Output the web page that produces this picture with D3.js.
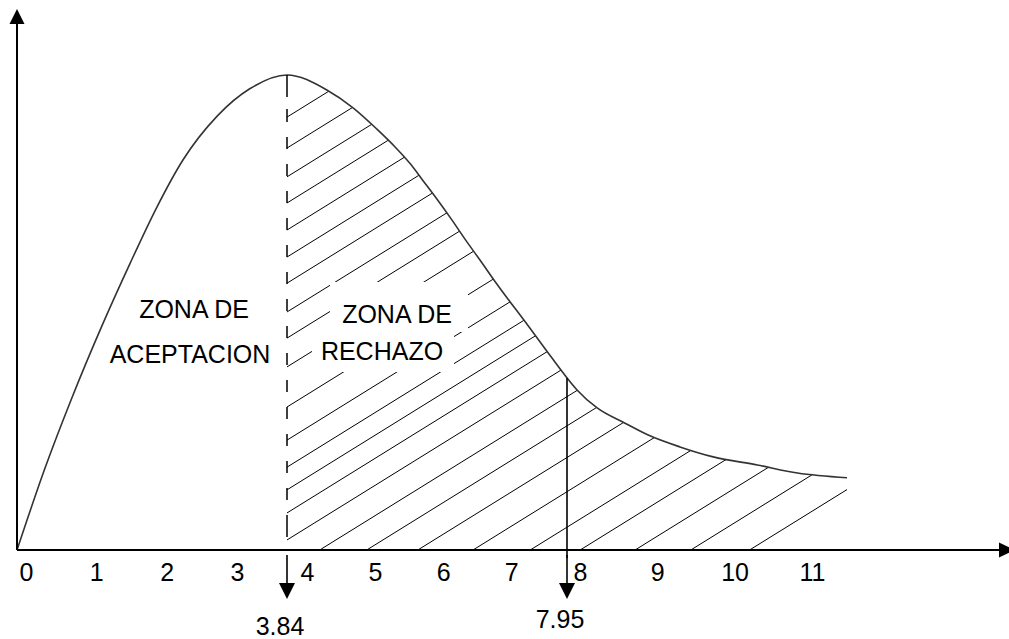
<!DOCTYPE html>
<html>
<head>
<meta charset="utf-8">
<script src="https://cdn.jsdelivr.net/npm/d3@7"></script>
<style>
  body { margin: 0; background: #fff; }
  svg { display: block; }
  text { font-family: "Liberation Sans", Arial, sans-serif; fill: #000; }
</style>
</head>
<body>
<div id="chart"></div>
<script>
// curve (x in axis units, y relative to the peak)
var curveX = [0, 0.40, 0.78, 1.22, 1.61, 1.99, 2.36, 2.85, 3.31, 3.84,
              4.43, 4.81, 5.16, 5.43, 5.65, 5.84, 6.04, 6.26, 6.45, 6.67, 6.92, 7.38, 7.73, 7.92,
              8.08, 8.34, 8.70, 9.00, 9.41, 9.84, 10.41, 10.93, 11.57];
var curveY = [0, 0.173, 0.320, 0.476, 0.604, 0.722, 0.821, 0.914, 0.971, 1.0,
              0.968, 0.931, 0.886, 0.848, 0.813, 0.777, 0.739, 0.695, 0.655, 0.611, 0.560, 0.472, 0.404, 0.368,
              0.337, 0.299, 0.267, 0.242, 0.217, 0.196, 0.179, 0.162, 0.152];

var tickValues = [0, 1, 2, 3, 4, 5, 6, 7, 8, 9, 10, 11];
var tickLabels = ["0", "1", "2", "3", "4", "5", "6", "7", "8", "9", "10", "11"];

var cutValues = [3.84, 7.95];
var cutLabels = ["3.84", "7.95"];

// where each hatch line crosses the x axis (axis units)
var hatchStarts = [-6.09, -5.38, -4.72, -4.12, -3.50, -2.88, -2.28, -1.62, -1.02, -0.36, 0.56, 1.32, 1.94, 2.46, 2.99, 3.61,
                   4.32, 5.01, 5.76, 6.57, 7.41, 8.12, 8.83, 9.55, 10.31];

var leftZone = ["ZONA DE", "ACEPTACION"];
var rightZone = ["ZONA DE", "RECHAZO"];

var width = 1009, height = 639;

var svg = d3.select("#chart").append("svg")
    .attr("width", width)
    .attr("height", height);

// the drawing is not evenly spaced, so the x scale bends at the two cut values
var x = d3.scaleLinear().domain([0, 3.84, 7.95, 14]).range([17, 287, 567, 1035]);
var y = d3.scaleLinear().domain([0, 1]).range([550, 75]);

var pts = curveX.map(function (d, i) { return { x: d, y: curveY[i] }; });

// linear lookup on the curve, good enough for the 7.95 line
var curveAt = function (v) {
    for (var i = 1; i < pts.length; i++) {
        if (v <= pts[i].x) {
            var t = (v - pts[i - 1].x) / (pts[i].x - pts[i - 1].x);
            return pts[i - 1].y + t * (pts[i].y - pts[i - 1].y);
        }
    }
    return pts[pts.length - 1].y;
};

// clip = area to the right of 3.84 under the curve
var rightPts = pts.filter(function (d) { return d.x >= cutValues[0]; });
var area = d3.area()
    .x(function (d) { return x(d.x); })
    .y0(y(0))
    .y1(function (d) { return y(d.y); })
    .curve(d3.curveMonotoneX);

svg.append("clipPath").attr("id", "rejectClip")
    .append("path")
    .attr("d", area(rightPts));

var slope = 0.62;
svg.append("g")
    .attr("clip-path", "url(#rejectClip)")
    .selectAll("line")
    .data(hatchStarts)
    .enter()
    .append("line")
    .attr("x1", function (d) { return x(d); })
    .attr("y1", y(0))
    .attr("x2", function (d) { return x(d) + 1200; })
    .attr("y2", y(0) - slope * 1200)
    .attr("stroke", "#000")
    .attr("stroke-width", 1);

// curve
var line = d3.line()
    .x(function (d) { return x(d.x); })
    .y(function (d) { return y(d.y); })
    .curve(d3.curveMonotoneX);

svg.append("path")
    .attr("d", line(pts))
    .attr("fill", "none")
    .attr("stroke", "#333")
    .attr("stroke-width", 1.6);

// dashed line at 3.84 (from the top down), solid at 7.95
svg.append("line")
    .attr("x1", x(cutValues[0])).attr("x2", x(cutValues[0]))
    .attr("y1", y(curveAt(cutValues[0]))).attr("y2", y(0))
    .attr("stroke", "#000")
    .attr("stroke-width", 1.5)
    .attr("stroke-dasharray", "22,12,13,15,12,15,12,15,12,15,12,15,12,15,12,15,12,15,12,15,12,15,12,15,12,15,12,15,12,15,12,15");

svg.append("line")
    .attr("x1", x(cutValues[1])).attr("x2", x(cutValues[1]))
    .attr("y1", y(curveAt(cutValues[1]))).attr("y2", y(0) + 8)
    .attr("stroke", "#000")
    .attr("stroke-width", 1.6);

// axes with arrow heads
svg.append("line")
    .attr("x1", x(0)).attr("x2", 1000)
    .attr("y1", y(0)).attr("y2", y(0))
    .attr("stroke", "#000").attr("stroke-width", 2);
svg.append("path")
    .attr("d", "M999," + (y(0) - 7.5) + "L1015," + y(0) + "L999," + (y(0) + 7.5) + "Z")
    .attr("fill", "#000");

svg.append("line")
    .attr("x1", x(0)).attr("x2", x(0))
    .attr("y1", y(0)).attr("y2", 22)
    .attr("stroke", "#000").attr("stroke-width", 2);
svg.append("path")
    .attr("d", "M" + (x(0) - 7.5) + ",24L" + x(0) + ",9L" + (x(0) + 7.5) + ",24Z")
    .attr("fill", "#000");

// tick labels
var xAxis = svg.append("g")
    .attr("transform", "translate(9," + y(0) + ")")
    .call(d3.axisBottom(x)
        .tickValues(tickValues)
        .tickFormat(function (d, i) { return tickLabels[i]; })
        .tickSize(0)
        .tickPadding(13));
xAxis.select(".domain").remove();
xAxis.selectAll("text")
    .attr("font-size", "25px")
    .attr("font-family", "Liberation Sans, Arial, sans-serif")
    .attr("fill", "#000");

// down arrows with the critical values
var cutLabelY = [635, 628];
var cuts = svg.selectAll("g.cut")
    .data(cutValues)
    .enter()
    .append("g")
    .attr("class", "cut")
    .attr("transform", function (d) { return "translate(" + x(d) + ",0)"; });

cuts.append("line")
    .attr("x1", 0).attr("x2", 0)
    .attr("y1", 555).attr("y2", 586)
    .attr("stroke", "#000").attr("stroke-width", 1.6);
cuts.append("path")
    .attr("d", "M-8,583L0,599L8,583Z")
    .attr("fill", "#000");
cuts.append("text")
    .attr("x", -7)
    .attr("y", function (d, i) { return cutLabelY[i]; })
    .attr("text-anchor", "middle")
    .attr("font-size", "25px")
    .text(function (d, i) { return cutLabels[i]; });

// zone labels; the rejection one sits on a white box over the hatching
svg.append("rect").attr("x", 330).attr("y", 282).attr("width", 138).attr("height", 50).attr("fill", "#fff");
svg.append("rect").attr("x", 312).attr("y", 330).attr("width", 142).attr("height", 42).attr("fill", "#fff");

svg.selectAll("text.left")
    .data(leftZone)
    .enter()
    .append("text")
    .attr("class", "left")
    .attr("x", function (d, i) { return [194, 190][i]; })
    .attr("y", function (d, i) { return [318, 363][i]; })
    .attr("text-anchor", "middle")
    .attr("font-size", "25px")
    .text(function (d) { return d; });

svg.selectAll("text.right")
    .data(rightZone)
    .enter()
    .append("text")
    .attr("class", "right")
    .attr("x", function (d, i) { return [397, 382][i]; })
    .attr("y", function (d, i) { return [323, 360][i]; })
    .attr("text-anchor", "middle")
    .attr("font-size", "25px")
    .text(function (d) { return d; });
</script>
</body>
</html>
